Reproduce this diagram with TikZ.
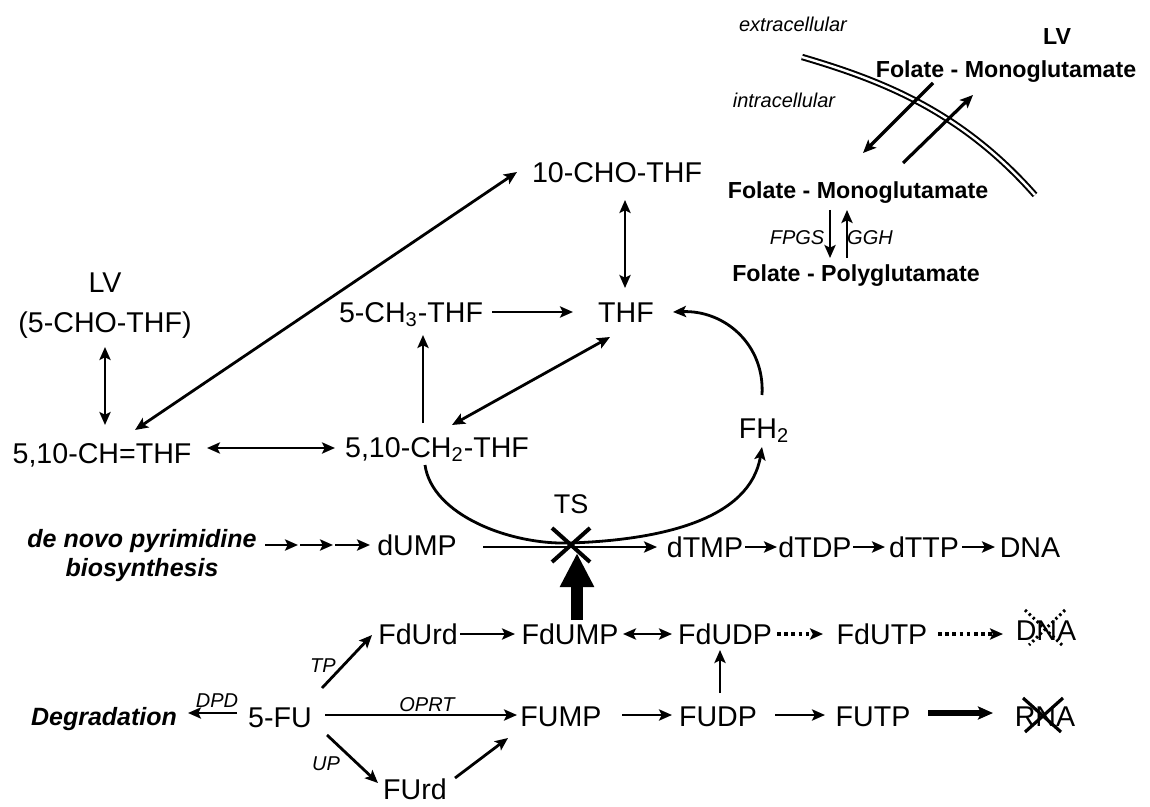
\documentclass[tikz,border=0pt]{standalone}
\usepackage{fontspec}
\setmainfont{Liberation Sans}
\usetikzlibrary{arrows.meta,calc}
\begin{document}
\begin{tikzpicture}[x=0.5pt,y=-0.5pt,
  lab/.style={font=\fontsize{14.3}{17}\selectfont, inner sep=0pt, text height=10.2pt, text depth=0pt},
  tslab/.style={font=\fontsize{13.5}{16}\selectfont, inner sep=0pt, text height=9.6pt, text depth=0pt},
  bl/.style={font=\bfseries\fontsize{11.6}{14}\selectfont, inner sep=0pt, text height=8.3pt, text depth=0pt},
  bi/.style={font=\bfseries\itshape\fontsize{12.5}{15}\selectfont, inner sep=0pt, text height=9pt, text depth=0pt},
  en/.style={font=\itshape\fontsize{10}{12}\selectfont, inner sep=0pt, text height=7.2pt, text depth=0pt},
  tipa/.tip={Stealth[length=6.5pt,width=5.6pt,inset=1.4pt]},
  arr/.style={line width=1.4pt, -tipa},
  dbl/.style={line width=1.4pt, tipa-tipa},
  dotarr/.style={line width=1.8pt, dash pattern=on 1.8pt off 1.8pt, -tipa},
  ]
\useasboundingbox (0,0) rectangle (1150,807);

% ---------- membrane region ----------
\node[en] (extra) at (793,24) {extracellular};
\node[en] (intra) at (784,100) {intracellular};
\node[bl] (lvtop) at (1057,36) {LV};
\node[bl] (fmtop) at (1006,69) {Folate - Monoglutamate};
\node[bl] (fmmid) at (858,190) {Folate - Monoglutamate};
\node[bl] (fpoly) at (856,273) {Folate - Polyglutamate};
\node[en] (fpgs) at (797,237) {FPGS};
\node[en] (ggh) at (870,237) {GGH};

\draw[double, double distance=1.2pt, line width=1pt] (802,57) .. controls (880,80) and (960,110) .. (1035,195);

\draw[arr, line width=1.6pt] ($(fmtop)+(-73,14)$) -- ($(fmmid)+(5,-37)$);
\draw[arr, line width=1.6pt] ($(fmmid)+(45,-27)$) -- ($(fmtop)+(-33,26)$);
\draw[arr] ($(fmmid)+(-28,20)$) -- ($(fpoly)+(-26,-15)$);
\draw[arr] ($(fpoly)+(-9,-15)$) -- ($(fmmid)+(-11,20)$);

% ---------- folate cycle ----------
\node[lab] (cho10) at (617,172) {10-CHO-THF};
\node[lab] (thf) at (626,312) {THF};
\node[lab] (ch3) at (411,312) {5-CH\textsubscript{3}-THF};
\node[lab] (ch2) at (437,447) {5,10-CH\textsubscript{2}-THF};
\node[lab] (ch) at (102,453) {5,10-CH=THF};
\node[lab] (lv1) at (105,282) {LV};
\node[lab] (lv2) at (105,322) {(5-CHO-THF)};
\node[lab] (fh2) at (764,428) {FH\textsubscript{2}};

\draw[dbl] ($(cho10)+(8,28)$) -- ($(thf)+(-1,-24)$);
\draw[dbl] ($(cho10)+(-100,0)$) -- ($(ch)+(33,-23)$);
\draw[arr] ($(ch3)+(81,0)$) -- ($(thf)+(-53,0)$);
\draw[arr] ($(ch2)+(-14,-24)$) -- ($(ch3)+(12,23)$);
\draw[dbl] ($(thf)+(-16,25)$) -- ($(ch2)+(15,-22)$);
\draw[dbl] ($(ch)+(105,-5)$) -- ($(ch2)+(-102,1)$);
\draw[dbl] ($(lv2)+(0,25)$) -- ($(ch)+(3,-28)$);
\draw[arr] ($(fh2)+(-2,-33)$) .. controls (765,345) and (725,310) .. ($(thf)+(47,0)$);
\draw[arr] ($(ch2)+(-12,18)$) .. controls (432,515) and (510,545) .. (570,543)
   .. controls (660,540) and (750,520) .. ($(fh2)+(-2,19)$);

% ---------- dUMP row ----------
\node[bi] (dn1) at (142,538) {de novo pyrimidine};
\node[bi] (dn2) at (142,567) {biosynthesis};
\node[lab] (dump) at (417,545) {dUMP};
\node[tslab] (ts) at (571,504) {TS};
\node[lab] (dtmp) at (705,547) {dTMP};
\node[lab] (dtdp) at (815,547) {dTDP};
\node[lab] (dttp) at (924,547) {dTTP};
\node[lab] (dnaA) at (1030,547) {DNA};

\draw[arr] ($(dn1)+(123,7)$) -- ++(33,0);
\draw[arr] ($(dn1)+(158,7)$) -- ++(33,0);
\draw[arr] ($(dn1)+(193,7)$) -- ($(dump)+(-47,0)$);
\draw[arr, line width=1.2pt] ($(dump)+(66,2)$) -- ($(dtmp)+(-48,0)$);
\draw[arr] ($(dtmp)+(40,0)$) -- ($(dtdp)+(-38,0)$);
\draw[arr] ($(dtdp)+(38,0)$) -- ($(dttp)+(-39,0)$);
\draw[arr] ($(dttp)+(38,0)$) -- ($(dnaA)+(-35,0)$);

% TS cross
\draw[line width=2pt] ($(ts)+(-19,24)$) -- ($(ts)+(19,58)$);
\draw[line width=2pt] ($(ts)+(19,24)$) -- ($(ts)+(-19,58)$);

% ---------- fluoro rows ----------
\node[lab] (fdurd) at (418,634) {FdUrd};
\node[lab] (fdump) at (570,634) {FdUMP};
\node[lab] (fdudp) at (725,634) {FdUDP};
\node[lab] (fdutp) at (882,634) {FdUTP};
\node[lab] (dnaB) at (1046,630) {DNA};
\node[lab] (fu) at (280,717) {5-FU};
\node[bi] (degr) at (104,716) {Degradation};
\node[lab] (fump) at (561,716) {FUMP};
\node[lab] (fudp) at (718,716) {FUDP};
\node[lab] (futp) at (873,716) {FUTP};
\node[lab] (rna) at (1045,716) {RNA};
\node[lab] (furd) at (415,789) {FUrd};

\node[en] (tp) at (323,665) {TP};
\node[en] (up) at (326,763) {UP};
\node[en] (dpd) at (217,700) {DPD};
\node[en] (oprt) at (427,704) {OPRT};

\draw[line width=6pt, -{Triangle[length=17pt,width=16pt]}] ($(fdump)+(7,-14)$) -- ($(ts)+(6,49)$);

\draw[arr] ($(fdurd)+(42,0)$) -- ($(fdump)+(-55,0)$);
\draw[dbl] ($(fdump)+(53,0)$) -- ($(fdudp)+(-53,0)$);
\draw[dotarr] ($(fdudp)+(52,0)$) -- ($(fdutp)+(-59,0)$);
\draw[dotarr] ($(fdutp)+(56,0)$) -- ($(dnaB)+(-43,4)$);

\draw[arr] ($(fu)+(-43,-4)$) -- ($(degr)+(84,-3)$);
\draw[arr] ($(fu)+(45,-2)$) -- ($(fump)+(-44,-1)$);
\draw[arr] ($(fu)+(42,-29)$) -- ($(fdurd)+(-46,1)$);
\draw[arr] ($(fu)+(47,18)$) -- ($(furd)+(-37,-6)$);
\draw[arr] ($(furd)+(40,-11)$) -- ($(fump)+(-53,22)$);
\draw[arr] ($(fump)+(61,-1)$) -- ($(fudp)+(-46,-1)$);
\draw[arr] ($(fudp)+(2,-23)$) -- ($(fdudp)+(-5,16)$);
\draw[arr] ($(fudp)+(57,-1)$) -- ($(futp)+(-48,-1)$);
\draw[line width=2.6pt, -{Stealth[length=7.5pt,width=6.5pt,inset=1.5pt]}] ($(futp)+(55,-3)$) -- ($(rna)+(-52,-3)$);

% crosses over DNA / RNA
\draw[line width=1.6pt] ($(rna)+(-22,-18)$) -- ($(rna)+(16,16)$);
\draw[line width=1.6pt] ($(rna)+(18,-18)$) -- ($(rna)+(-20,16)$);
\draw[line width=1.5pt, dash pattern=on 1.2pt off 1.5pt] ($(dnaB)+(-21,-20)$) -- ($(dnaB)+(16,15)$);
\draw[line width=1.5pt, dash pattern=on 1.2pt off 1.5pt] ($(dnaB)+(19,-20)$) -- ($(dnaB)+(-17,15)$);
\end{tikzpicture}
\end{document}
